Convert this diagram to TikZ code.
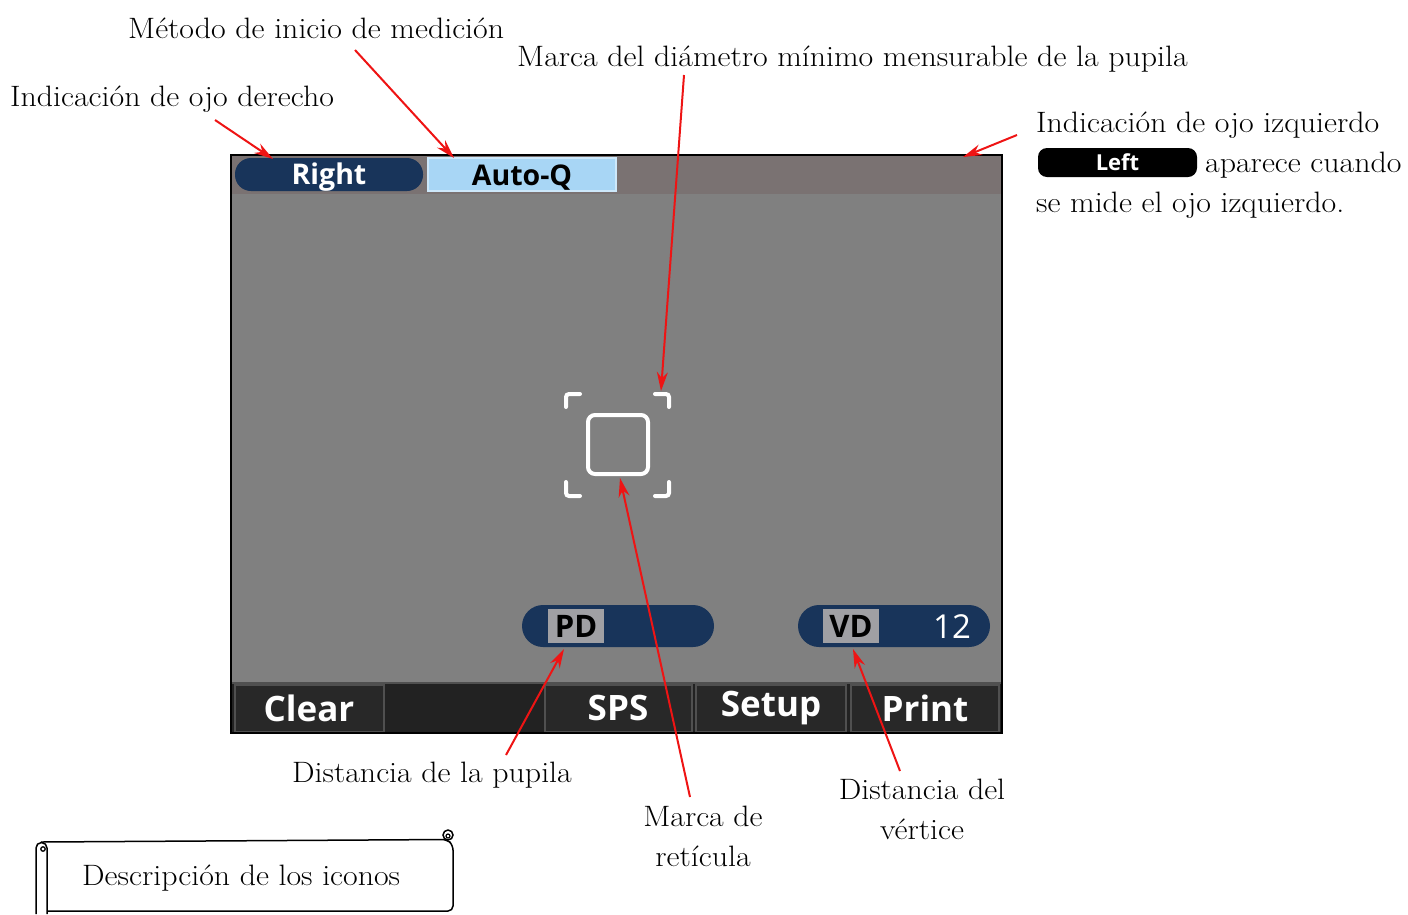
\documentclass[tikz,border=0pt]{standalone}
\usepackage{fontspec}
\setmainfont{Latin Modern Roman}[FakeStretch=1.08]
\newfontfamily\uifont{Open Sans}
\usetikzlibrary{arrows.meta}
\definecolor{navy}{RGB}{24,52,90}
\definecolor{scrgray}{RGB}{128,128,128}
\definecolor{topgray}{RGB}{122,114,114}
\definecolor{barblack}{RGB}{34,34,34}
\definecolor{btnfill}{RGB}{40,40,40}
\definecolor{btnedge}{RGB}{80,80,80}
\definecolor{autoblue}{RGB}{168,214,245}
\definecolor{autoedge}{RGB}{205,232,250}
\definecolor{tagbox}{RGB}{160,160,164}
\definecolor{callred}{RGB}{238,20,20}
\tikzset{
  lbl/.style={font=\fontsize{29.5}{36}\selectfont, inner sep=0pt},
  callout/.style={draw=callred, line width=2pt, -{Stealth[length=19pt,width=11pt]}},
  pill/.style={fill=navy, rounded corners=16pt, text=white, inner sep=0pt},
  btn/.style={fill=btnfill, draw=btnedge, line width=2pt, text=white, inner sep=0pt,
    font=\uifont\bfseries\fontsize{35}{40}\selectfont, minimum height=47pt},
  tagtxt/.style={fill=tagbox, inner sep=1pt, text=black, font=\uifont\bfseries\fontsize{31}{36}\selectfont, minimum height=34pt},
  reticle/.style={draw=white, line width=4pt, line cap=round, rounded corners=3pt},
  toptxt/.style={inner sep=0pt, font=\uifont\bfseries\fontsize{28.5}{30}\selectfont},
}
\begin{document}
\begin{tikzpicture}[x=1pt,y=-1pt]
\useasboundingbox (0,0) rectangle (1408,914);
% screen
\fill[scrgray] (232,156) rectangle (1001,732);
\fill[topgray] (232,156) rectangle (1001,194);
\fill[barblack] (232,683) rectangle (1001,732);
\draw[btnedge, line width=1.5pt] (232,683) -- (1001,683);
\node[btn, minimum width=149pt] (clear) at (309,708) {Clear};
\node[btn, minimum width=147pt] (sps) at (618,708) {SPS};
\node[btn, minimum width=150pt] (setup) at (771,708) {\raisebox{3pt}{Setup}};
\node[btn, minimum width=148pt] (print) at (925,708) {Print};
\draw[line width=2pt] (231,155) rectangle (1002,733);
% top pills
\node[pill, minimum width=188pt, minimum height=33pt] (right) at (329,174.5) {};
\node[toptxt, text=white, anchor=base] (righttxt) at (329,184) {Right};
\node[fill=autoblue, draw=autoedge, line width=1.5pt, minimum width=188pt, minimum height=33pt, inner sep=0pt] (autoq) at (522,174.5) {};
\node[toptxt, text=black, anchor=base] (autoqtxt) at (522,185) {Auto-Q};
% reticle
\draw[reticle, rounded corners=7pt] (588,415) rectangle (648,474);
\draw[reticle] (566,407) -- (566,394) -- (580,394);
\draw[reticle] (655,394) -- (669,394) -- (669,407);
\draw[reticle] (566,482) -- (566,496) -- (580,496);
\draw[reticle] (655,496) -- (669,496) -- (669,482);
% PD / VD pills
\node[pill, rounded corners=21pt, minimum width=192pt, minimum height=42pt] (pd) at (618,626) {};
\node[tagtxt, minimum width=56pt] (pdtag) at (576,626) {PD};
\node[pill, rounded corners=21pt, minimum width=192pt, minimum height=42pt] (vd) at (894,626) {};
\node[tagtxt, minimum width=56pt] (vdtag) at (851,626) {VD};
\node[inner sep=0pt, text=white, font=\uifont\fontsize{33}{36}\selectfont] (vdval) at (952,627) {12};
% labels
\node[lbl, anchor=base west] (tmet) at (128,38) {Método de inicio de medición};
\node[lbl, anchor=base west] (tmarca) at (517,66) {Marca del diámetro mínimo mensurable de la pupila};
\node[lbl, anchor=base west] (tder) at (10,106) {Indicación de ojo derecho};
\node[lbl, anchor=base west] (tizq) at (1036,132) {Indicación de ojo izquierdo};
\node[fill=black, text=white, rounded corners=9pt, minimum width=159pt, minimum height=29pt, inner sep=0pt, font=\uifont\bfseries\fontsize{22}{24}\selectfont] (leftpill) at (1117.5,162.5) {Left};
\node[lbl, anchor=base west] (tapa) at (1205,172) {aparece cuando};
\node[lbl, anchor=base west] (tmide) at (1036,212) {se mide el ojo izquierdo.};
\node[lbl, anchor=base] (tpd) at (432,782) {Distancia de la pupila};
\node[lbl, anchor=base] (tret1) at (703,826) {Marca de};
\node[lbl, anchor=base] (tret2) at (703,866) {retícula};
\node[lbl, anchor=base] (tvd1) at (922,799) {Distancia del};
\node[lbl, anchor=base] (tvd2) at (922,839) {vértice};
% callouts
\coordinate (a1s) at (215,120); \coordinate (a1e) at (273,159);
\coordinate (a2s) at (355,50);  \coordinate (a2e) at (454,158);
\coordinate (a3s) at (684,75);  \coordinate (a3e) at (661,391);
\coordinate (a4s) at (1017,135); \coordinate (a4e) at (963,157);
\coordinate (a5s) at (506,755); \coordinate (a5e) at (564,649);
\coordinate (a6s) at (690,797); \coordinate (a6e) at (620,478);
\coordinate (a7s) at (900,771); \coordinate (a7e) at (853,649);
\draw[callout] (a1s) -- (a1e);
\draw[callout] (a2s) -- (a2e);
\draw[callout] (a3s) -- (a3e);
\draw[callout] (a4s) -- (a4e);
\draw[callout] (a5s) -- (a5e);
\draw[callout] (a6s) -- (a6e);
\draw[callout] (a7s) -- (a7e);
% scroll
\draw[line width=1.5pt, rounded corners=5pt] (41,842) -- (447,839.5) -- (453,845) -- (453,911) -- (47,911);
\draw[line width=1.5pt] (36,914) -- (36,848) arc[start angle=180, end angle=0, radius=5.5pt] -- (47,914);
\draw[line width=1.3pt] (43,849) circle[radius=2.2pt];
\draw[line width=1.5pt] (448,835) circle[radius=5pt];
\draw[line width=1.2pt] (448,836) circle[radius=2pt];
\node[lbl, anchor=base west] (tdesc) at (82,885) {Descripción de los iconos};
\end{tikzpicture}
\end{document}
